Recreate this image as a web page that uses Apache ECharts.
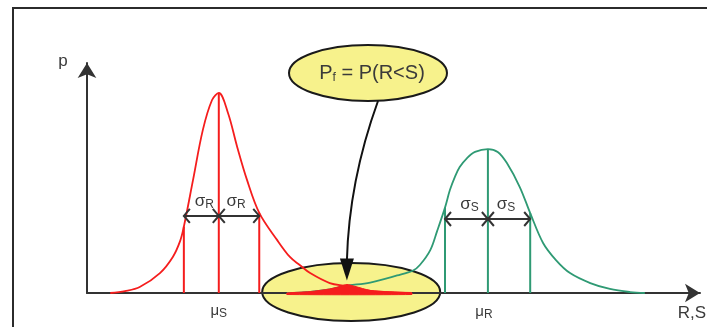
<!DOCTYPE html>
<html><head><meta charset="utf-8">
<script src="https://cdn.jsdelivr.net/npm/echarts@6/dist/echarts.min.js"></script>
<style>html,body{margin:0;padding:0;background:#fff}#c{width:707px;height:327px}</style>
</head><body><div id="c"></div>
<script>
// x: R,S value (0-100), y: density p (relative, 0-97)
const redCurve = [[3.8,0],[6.2,0.8],[8.6,2.5],[11.9,8.4],[14.0,15.2],[15.2,22.0],[15.8,28.0],[17.3,47.7],[18.9,68.8],[20.4,81.4],[21.5,84.4],[23.0,75.9],[24.5,61.6],[26.1,47.7],[28.1,33.8],[31.0,22.4],[33.1,15.2],[34.7,11.8],[36.4,8.4],[39.6,4.2],[42.2,3.0],[46.2,0.9],[53.0,0]];
const greenCurve = [[32.6,0],[36.4,0.5],[39.6,1.5],[42.2,3.0],[46.2,4.4],[50.6,7.4],[53.2,9.5],[54.3,11.8],[56.0,18.1],[57.1,26.0],[58.4,36.0],[59.2,43.4],[60.0,48.9],[60.8,53.1],[62.0,56.9],[63.3,59.5],[65.4,60.7],[67.0,59.5],[68.5,54.8],[70.6,44.7],[72.3,33.7],[74.4,21.1],[76.5,13.9],[78.8,8.4],[82.1,4.2],[85.3,1.7],[88.6,0.4],[91.0,0]];
const overlap = [[32.6,0],[36.4,0.6],[39.6,1.7],[41.3,2.8],[42.4,3.6],[43.7,2.8],[46.2,1.1],[49.4,0.5],[53.0,0]];
const redMarks = [[15.8,28.0],[21.5,84.4],[28.1,33.8]];
const greenMarks = [[58.4,36.0],[65.4,60.7],[72.3,33.7]];
const redSigma = [[15.8,21.5,32.5],[21.5,28.1,32.5]];
const greenSigma = [[58.4,65.4,31.2],[65.4,72.3,31.2]];
const redMean = 21.5, greenMean = 65.4, failurePoint = [42.4, 3.6];
const sigmaLabelsRed = ['σ','R'], sigmaLabelsGreen = ['σ','S'];
const meanLabels = [['μ','S'],['μ','R']];
const axisNames = ['R,S','p'];
const pfLabel = ['P','f',' = P(R<S)'];

const RED = '#f51d1d', GREEN = '#2f9a74', DARK = '#333333', TXT = '#3a3a3a', YEL = '#f7f28c';
const FONT = '"Liberation Sans", Arial, sans-serif';

const chart = echarts.init(document.getElementById('c'));

function vertRender(color){
  return function(params, api){
    const top = api.coord([api.value(0), api.value(1)]);
    const bot = api.coord([api.value(0), 0]);
    return {type:'line', shape:{x1:bot[0],y1:bot[1],x2:top[0],y2:top[1]}, style:{stroke:color,lineWidth:2}};
  };
}
function sigmaRender(params, api){
  const a = api.coord([api.value(0), api.value(2)]);
  const b = api.coord([api.value(1), api.value(2)]);
  const y = a[1], h = 7, w = 6;
  const st = {stroke:DARK, lineWidth:2, fill:null};
  return {type:'group', children:[
    {type:'line', shape:{x1:a[0],y1:y,x2:b[0],y2:y}, style:st},
    {type:'polyline', shape:{points:[[a[0]+w,y-h],[a[0],y],[a[0]+w,y+h]]}, style:st},
    {type:'polyline', shape:{points:[[b[0]-w,y-h],[b[0],y],[b[0]-w,y+h]]}, style:st}
  ]};
}
function overlapRender(params, api){
  if (params.dataIndex !== 0) return null;
  const pts = overlap.map(d => api.coord(d));
  const last = pts[pts.length-1], first = pts[0];
  const poly = pts.concat([[last[0], last[1]+1.5],[first[0], first[1]+1.5]]);
  return {type:'polygon', shape:{points:poly, smooth:0.25}, style:{fill:RED, stroke:RED, lineWidth:1}};
}

const axisCommon = {
  type:'value', z:1, axisTick:{show:false}, axisLabel:{show:false}, splitLine:{show:false},
  axisLine:{show:true, symbol:['none','arrow'], symbolSize:[14,15], lineStyle:{color:DARK,width:2}}
};

chart.setOption({
  animation:false,
  grid:{left:87,right:7,top:63,bottom:34},
  xAxis:Object.assign({min:0,max:100}, axisCommon),
  yAxis:Object.assign({min:0,max:97}, axisCommon),
  series:[
    {type:'line', data:redCurve, smooth:0.35, showSymbol:false, lineStyle:{color:RED,width:1.8}, z:5},
    {type:'line', data:greenCurve, smooth:0.35, showSymbol:false, lineStyle:{color:GREEN,width:1.8}, z:5},
    {type:'custom', data:overlap, renderItem:overlapRender, z:6},
    {type:'custom', data:redMarks, renderItem:vertRender(RED), z:5},
    {type:'custom', data:greenMarks, renderItem:vertRender(GREEN), z:5},
    {type:'custom', data:redSigma.concat(greenSigma), encode:{x:[0,1],y:2}, renderItem:sigmaRender, z:7}
  ]
});

const px = (x,p) => chart.convertToPixel({gridIndex:0},[x,p]);

function subText(cx, cy, main, sub, mainSize, subSize, extra){
  const rich = {
    m:{fontSize:mainSize, lineHeight:mainSize+2, fontFamily:FONT, fill:TXT, color:TXT},
    s:{fontSize:subSize, lineHeight:subSize, fontFamily:FONT, fill:TXT, color:TXT, verticalAlign:'bottom'}
  };
  let text = '{m|'+main+'}{s|'+sub+'}' + (extra ? '{m|'+extra+'}' : '');
  return {type:'text', x:cx, y:cy, z:20, style:{text:text, rich:rich, align:'center', verticalAlign:'middle', fill:TXT, font: mainSize+'px '+FONT}};
}

const g = [];
// frame
g.push({type:'rect', shape:{x:13,y:8,width:740,height:360}, style:{fill:null, stroke:'#2b2b2b', lineWidth:2}, z:20});
// failure region ellipse (below the axis line)
const fc = px(43.1, 0);
g.push({type:'ellipse', shape:{cx:fc[0], cy:fc[1]-1, rx:89, ry:29}, style:{fill:YEL, stroke:'#1a1a1a', lineWidth:2}, z:0});
// top ellipse with Pf
g.push({type:'ellipse', shape:{cx:368, cy:73, rx:79, ry:28}, style:{fill:YEL, stroke:'#1a1a1a', lineWidth:2}, z:20});
g.push(subText(372, 73, pfLabel[0], pfLabel[1], 20, 12, pfLabel[2]));
// curved arrow
const tip = px(failurePoint[0], failurePoint[1]);
const tx = tip[0], ty = tip[1]-4;
g.push({type:'bezierCurve', shape:{x1:378,y1:101,cpx1:349,cpy1:181,x2:tx,y2:ty-20}, style:{stroke:'#111',lineWidth:2,fill:null}, z:20});
g.push({type:'polygon', shape:{points:[[tx,ty],[tx-7,ty-22],[tx+7,ty-22]]}, style:{fill:'#111'}, z:20});
// sigma labels
const lab = (seg, dir, names) => {
  const a = px(seg[0], seg[2]), b = px(seg[1], seg[2]);
  return subText((a[0]+b[0])/2 + dir*3, a[1]-15, names[0], names[1], 17, 12);
};
g.push(lab(redSigma[0], 1, sigmaLabelsRed), lab(redSigma[1], -1, sigmaLabelsRed));
g.push(lab(greenSigma[0], 1, sigmaLabelsGreen), lab(greenSigma[1], -1, sigmaLabelsGreen));
// mean labels
const m1 = px(redMean, 0), m2 = px(greenMean, 0);
g.push(subText(m1[0], m1[1]+18, meanLabels[0][0], meanLabels[0][1], 15, 12));
g.push(subText(m2[0]-4, m2[1]+19, meanLabels[1][0], meanLabels[1][1], 15, 12));
// axis names
const xe = px(100, 0), ye = px(0, 97);
g.push({type:'text', x:xe[0]+6, y:xe[1]+20, z:20, style:{text:axisNames[0], font:'17px '+FONT, fill:TXT, align:'right', verticalAlign:'middle'}});
g.push({type:'text', x:ye[0]-24, y:ye[1]-2, z:20, style:{text:axisNames[1], font:'17px '+FONT, fill:TXT, align:'center', verticalAlign:'middle'}});

chart.setOption({graphic:{elements:g}});
</script></body></html>
